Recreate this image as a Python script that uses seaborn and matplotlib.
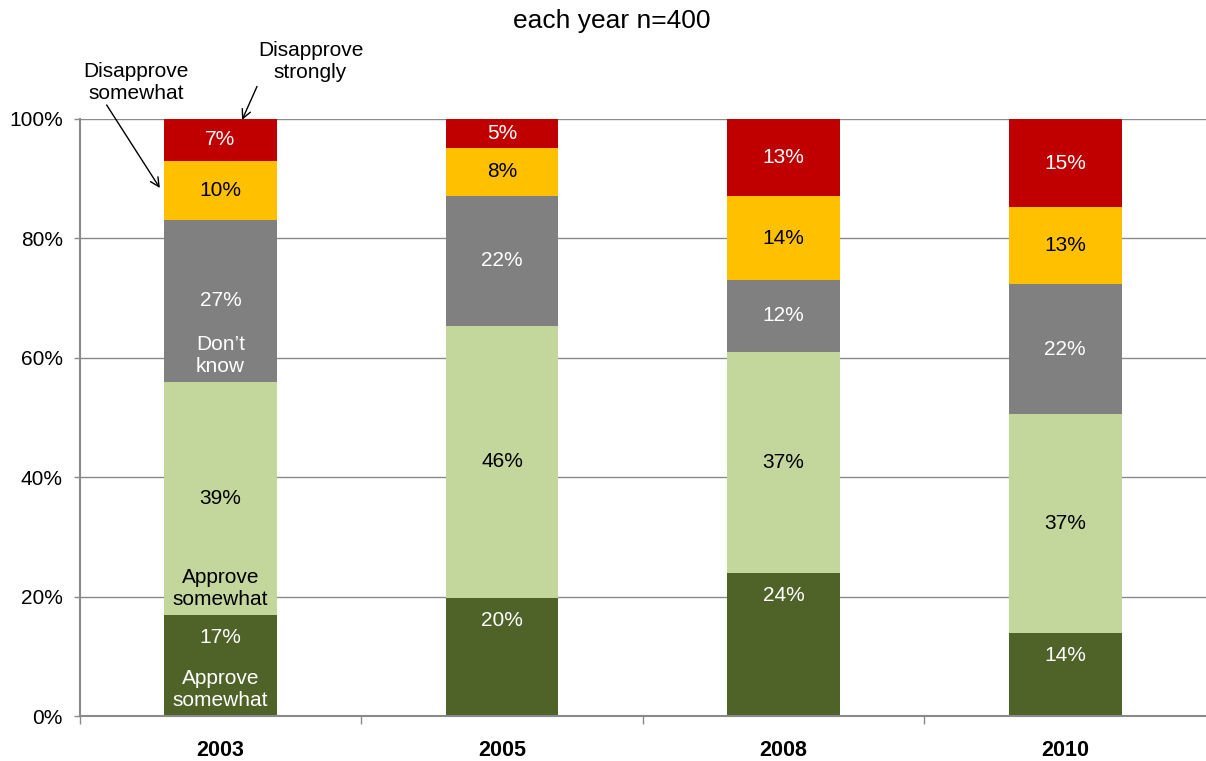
import numpy as np
import pandas as pd
import seaborn as sns
import matplotlib
matplotlib.use('Agg')
import matplotlib.pyplot as plt
from matplotlib.ticker import PercentFormatter, FixedLocator

years = ['2003', '2005', '2008', '2010']
approve_strongly = [17, 20, 24, 14]
approve_somewhat = [39, 46, 37, 37]
dont_know = [27, 22, 12, 22]
disapprove_somewhat = [10, 8, 14, 13]
disapprove_strongly = [7, 5, 13, 15]

series = ['Approve strongly', 'Approve somewhat', "Don't know",
          'Disapprove somewhat', 'Disapprove strongly']
colors = ['#4F6228', '#C3D69B', '#808080', '#FFC000', '#C00000']
text_colors = ['white', 'black', 'white', 'black', 'white']

sns.set_theme(style='white')
plt.rcParams['font.family'] = ['Liberation Sans', 'DejaVu Sans']
plt.rcParams['text.color'] = 'black'
plt.rcParams['xtick.labelcolor'] = 'black'
plt.rcParams['ytick.labelcolor'] = 'black'

raw = np.array([approve_strongly, approve_somewhat, dont_know,
                disapprove_somewhat, disapprove_strongly], dtype=float)
share = raw / raw.sum(axis=0) * 100

fig = plt.figure(figsize=(12.06, 7.61), dpi=100)
ax = fig.add_axes([0.066, 0.059, 0.934, 0.785])

fs = 15
bottom = np.zeros(len(years))
for i, name in enumerate(series):
    df = pd.DataFrame({'year': years, 'value': share[i]})
    sns.barplot(data=df, x='year', y='value', order=years, color=colors[i],
                width=0.4, bottom=bottom, ax=ax, linewidth=0, saturation=1)
    for j in range(len(years)):
        if i == 0:
            # bottom segment labels sit near the top of the bar
            y = bottom[j] + share[i][j] - 3.8
        else:
            y = bottom[j] + share[i][j] / 2
        ax.text(j, y, f'{int(raw[i][j])}%', ha='center', va='center',
                fontsize=fs, color=text_colors[i])
    bottom = bottom + share[i]

# extra segment names on the first bar
ax.text(0, 60.3, "Don\u2019t\nknow", ha='center', va='center', fontsize=fs,
        color='white')
ax.text(0, 21.3, 'Approve\nsomewhat', ha='center', va='center', fontsize=fs,
        color='black')
ax.text(0, 4.4, 'Approve\nsomewhat', ha='center', va='center', fontsize=fs,
        color='white')

# callouts for the two top segments
ax.text(-0.30, 106.1, 'Disapprove\nsomewhat', ha='center', va='center',
        fontsize=fs, clip_on=False)
ax.annotate('', xy=(-0.215, 88.4), xytext=(-0.404, 102.3),
            annotation_clip=False,
            arrowprops=dict(arrowstyle='->', color='black', lw=1,
                            shrinkA=0, shrinkB=0, mutation_scale=16))
ax.text(0.32, 109.5, 'Disapprove\nstrongly', ha='center', va='center',
        fontsize=fs, clip_on=False)
ax.annotate('', xy=(0.077, 99.8), xytext=(0.130, 105.4),
            annotation_clip=False,
            arrowprops=dict(arrowstyle='->', color='black', lw=1,
                            shrinkA=0, shrinkB=0, mutation_scale=16))

fig.text(0.507, 0.972, 'each year n=400', ha='center', va='center', fontsize=19)

ax.set_ylim(0, 100)
ax.set_xlim(-0.5, 3.5)
ax.set_yticks(np.arange(0, 101, 20))
ax.yaxis.set_major_formatter(PercentFormatter(decimals=0))
ax.grid(axis='y', color='#8A8A8A', linewidth=1)
ax.set_axisbelow(True)
ax.set_xlabel('')
ax.set_ylabel('')
for side in ['top', 'right']:
    ax.spines[side].set_visible(False)
for side in ['left', 'bottom']:
    ax.spines[side].set_color('#8A8A8A')
    ax.spines[side].set_linewidth(1.5)

ax.set_xticks(np.arange(len(years)))
ax.set_xticklabels(years, fontsize=15.5, fontweight='bold')
ax.xaxis.set_minor_locator(FixedLocator([-0.5, 0.5, 1.5, 2.5]))
ax.tick_params(axis='x', which='major', length=0, pad=17)
ax.tick_params(axis='x', which='minor', length=6, width=1, color='#8A8A8A',
               direction='out', bottom=True)
ax.tick_params(axis='y', length=4, width=1, color='#8A8A8A', direction='out',
               labelsize=fs, pad=8, left=True)

fig.savefig('out.png', dpi=100)
